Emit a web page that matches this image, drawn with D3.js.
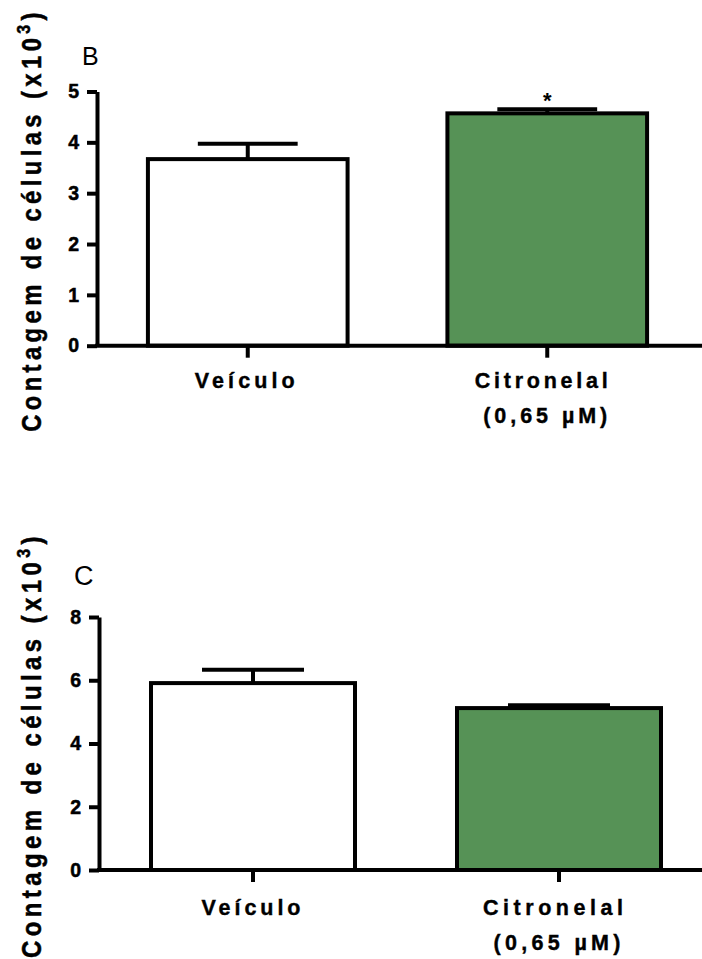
<!DOCTYPE html>
<html>
<head>
<meta charset="utf-8">
<script src="https://cdnjs.cloudflare.com/ajax/libs/d3/7.8.5/d3.min.js"></script>
<style>
  body { margin: 0; background: #fff; }
  svg { display: block; }
  text { font-family: "Liberation Sans", Arial, sans-serif; fill: #000; }
</style>
</head>
<body>
<div id="chart"></div>
<script>
//// DATA ////

var categories = ["Veículo", "Citronelal"];
var subLabels = ["", "(0,65 µM)"];
var barColors = ["#ffffff", "#569256"];

// panel B
var meansB = [3.67, 4.57];
var semB = [0.30, 0.08];
var ticksB = [0, 1, 2, 3, 4, 5];
var sigB = ["", "*"];

// panel C
var meansC = [5.91, 5.12];
var semC = [0.42, 0.09];
var ticksC = [0, 2, 4, 6, 8];
var sigC = ["", ""];

var yTitle = "Contagem de células (x10";

//// SET UP ////

var svgWidth = 702;
var svgHeight = 959;

var svg = d3.select("#chart")
  .append("svg")
  .attr("width", svgWidth)
  .attr("height", svgHeight);

var panels = [
  {
    letter: "B", letterX: 82, letterY: 65, letterSize: 25,
    means: meansB, sem: semB, ticks: ticksB, sig: sigB,
    axisX: 97, xRange: [98, 697], yRange: [345.7, 91.5],
    titleCenter: 220, titleLength: 424,
    labelY: 388, subY: 423,
    labelWidths: [100, 133], subWidths: [0, 124], labelShift: [-3, -6], subShift: [0, -2]
  },
  {
    letter: "C", letterX: 74, letterY: 585, letterSize: 27,
    means: meansC, sem: semC, ticks: ticksC, sig: sigC,
    axisX: 99, xRange: [100, 712], yRange: [870, 617],
    titleCenter: 745, titleLength: 426,
    labelY: 915, subY: 950,
    labelWidths: [99, 140], subWidths: [0, 127], labelShift: [-2, -6], subShift: [0, -2]
  }
];

panels.forEach(drawPanel);

function drawPanel(p) {
  var g = svg.append("g");

  var xBand = d3.scaleBand()
    .domain(categories)
    .range(p.xRange)
    .paddingInner(1 / 3)
    .paddingOuter(1 / 6);

  var yLinear = d3.scaleLinear()
    .domain([0, d3.max(p.ticks)])
    .range(p.yRange);

  // bars
  g.selectAll(".bar")
    .data(categories)
    .enter()
    .append("rect")
    .attr("x", d => xBand(d))
    .attr("y", (d, i) => yLinear(p.means[i]))
    .attr("width", xBand.bandwidth())
    .attr("height", (d, i) => yLinear(0) - yLinear(p.means[i]))
    .attr("fill", (d, i) => barColors[i])
    .attr("stroke", "#000")
    .attr("stroke-width", 4);

  // error bars (upper only)
  var cx = d => xBand(d) + xBand.bandwidth() / 2;
  var capHalf = xBand.bandwidth() / 4;

  g.selectAll(".stem")
    .data(categories)
    .enter()
    .append("line")
    .attr("x1", cx).attr("x2", cx)
    .attr("y1", (d, i) => yLinear(p.means[i]))
    .attr("y2", (d, i) => yLinear(p.means[i] + p.sem[i]))
    .attr("stroke", "#000")
    .attr("stroke-width", 4);

  g.selectAll(".cap")
    .data(categories)
    .enter()
    .append("line")
    .attr("x1", d => cx(d) - capHalf)
    .attr("x2", d => cx(d) + capHalf)
    .attr("y1", (d, i) => yLinear(p.means[i] + p.sem[i]))
    .attr("y2", (d, i) => yLinear(p.means[i] + p.sem[i]))
    .attr("stroke", "#000")
    .attr("stroke-width", 4);

  // significance marks
  g.selectAll(".sig")
    .data(categories)
    .enter()
    .append("text")
    .attr("x", cx)
    .attr("y", (d, i) => yLinear(p.means[i] + p.sem[i]) - 1)
    .attr("text-anchor", "middle")
    .attr("font-size", 22)
    .attr("font-weight", "bold")
    .text((d, i) => p.sig[i]);

  // y axis
  var leftAxis = d3.axisLeft(yLinear)
    .tickValues(p.ticks)
    .tickFormat(d3.format("d"))
    .tickSize(10)
    .tickSizeOuter(0)
    .tickPadding(8);

  var yAxisG = g.append("g")
    .attr("transform", `translate(${p.axisX}, 0)`)
    .call(leftAxis);
  yAxisG.select(".domain").attr("stroke-width", 4).attr("stroke", "#000");
  yAxisG.selectAll(".tick line").attr("stroke-width", 4).attr("stroke", "#000");
  yAxisG.selectAll(".tick text")
    .attr("font-family", '"Liberation Sans", Arial, sans-serif')
    .attr("font-size", 19.5)
    .attr("font-weight", "bold")
    .attr("fill", "#000")
    .attr("stroke", "#000")
    .attr("stroke-width", 0.5);

  // x axis
  g.append("line")
    .attr("x1", p.axisX - 2)
    .attr("x2", svgWidth)
    .attr("y1", yLinear(0))
    .attr("y2", yLinear(0))
    .attr("stroke", "#000")
    .attr("stroke-width", 4);

  var bottomAxis = d3.axisBottom(xBand)
    .tickSize(12)
    .tickFormat("");
  var xAxisG = g.append("g")
    .attr("transform", `translate(0, ${yLinear(0)})`)
    .call(bottomAxis);
  xAxisG.select(".domain").remove();
  xAxisG.selectAll(".tick line").attr("stroke-width", 4).attr("stroke", "#000");

  // category labels
  g.selectAll(".catLabel")
    .data(categories)
    .enter()
    .append("text")
    .attr("x", (d, i) => cx(d) + p.labelShift[i])
    .attr("y", p.labelY)
    .attr("text-anchor", "middle")
    .attr("font-size", 21.5)
    .attr("font-weight", "bold")
    .attr("stroke", "#000")
    .attr("stroke-width", 0.4)
    .attr("textLength", (d, i) => p.labelWidths[i])
    .attr("lengthAdjust", "spacing")
    .text(d => d);

  g.selectAll(".subLabel")
    .data(categories.filter((d, i) => subLabels[i] !== ""))
    .enter()
    .append("text")
    .attr("x", d => cx(d) + p.subShift[categories.indexOf(d)])
    .attr("y", p.subY)
    .attr("text-anchor", "middle")
    .attr("font-size", 21.5)
    .attr("font-weight", "bold")
    .attr("stroke", "#000")
    .attr("stroke-width", 0.4)
    .attr("textLength", d => p.subWidths[categories.indexOf(d)])
    .attr("lengthAdjust", "spacing")
    .text(d => subLabels[categories.indexOf(d)]);

  // panel letter
  g.append("text")
    .attr("x", p.letterX)
    .attr("y", p.letterY)
    .attr("font-size", p.letterSize)
    .text(p.letter);

  // y axis title, condensed along its length
  var title = g.append("text")
    .attr("text-anchor", "middle")
    .attr("font-size", 27)
    .attr("font-weight", "bold")
    .attr("stroke", "#000")
    .attr("stroke-width", 0.5)
    .attr("letter-spacing", 5);
  title.append("tspan").text(yTitle);
  title.append("tspan").attr("font-size", 18).attr("dy", -11).text("3");
  title.append("tspan").attr("dy", 11).text(")");

  var w = title.node().getBBox().width;
  var k = p.titleLength / w;
  title.attr("transform", `translate(41, ${p.titleCenter}) rotate(-90) scale(${k}, 1)`);
}
</script>
</body>
</html>
